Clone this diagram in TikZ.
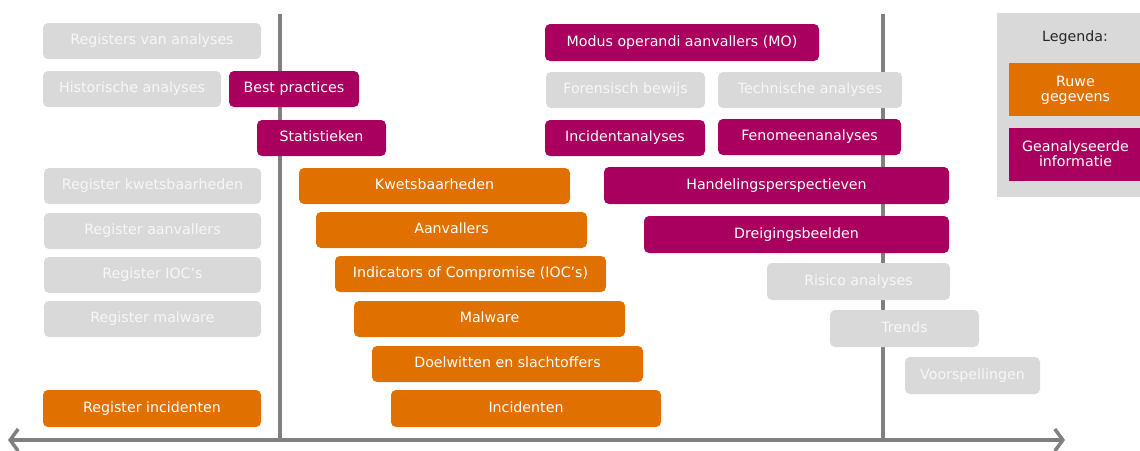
\documentclass[tikz,border=0pt]{standalone}
\usepackage{fontspec}
\setmainfont{DejaVu Sans}
\usetikzlibrary{arrows.meta}
\definecolor{ora}{HTML}{E07000}
\definecolor{mag}{HTML}{A9005F}
\definecolor{gry}{HTML}{D9D9D9}
\definecolor{axg}{HTML}{808080}
\definecolor{gtxt}{HTML}{F7F7F7}
\tikzset{
  bx/.style={rounded corners=5pt, inner sep=0pt, minimum height=36pt, font=\fontsize{14.2}{15}\selectfont, align=center, text height=0.77em, text depth=0em},
  raw/.style={bx, fill=ora, text=white},
  ana/.style={bx, fill=mag, text=white},
  reg/.style={bx, fill=gry, text=gtxt},
  lg/.style={rounded corners=0pt, minimum width=133pt, minimum height=53pt, text height=24.4pt, text depth=0pt},
  axis/.style={draw=axg, line width=3.5pt},
}
\begin{document}
\begin{tikzpicture}[x=1pt,y=-1pt]
\useasboundingbox (0,0) rectangle (1140,450);
% axes
\coordinate (l1t) at (280,14); \coordinate (l1b) at (280,441);
\coordinate (l2t) at (883,14); \coordinate (l2b) at (883,441);
\coordinate (al) at (8,440); \coordinate (ar) at (1065,440);
\draw[axis] (l1t) -- (l1b);
\draw[axis] (l2t) -- (l2b);
\draw[axis, {Straight Barb[length=8pt,width=22pt]}-{Straight Barb[length=8pt,width=22pt]}] (al) -- (ar);
% left column
\node[reg, minimum width=218pt] (reg1) at (152,41) {Registers van analyses};
\node[reg, minimum width=178pt] (hist) at (132,89) {Historische analyses};
\node[ana, minimum width=130pt] (best) at (294,89) {Best practices};
\node[ana, minimum width=129pt] (stat) at (321.5,138) {Statistieken};
\node[reg, minimum width=217pt] (rk) at (152.5,186) {Register kwetsbaarheden};
\node[reg, minimum width=217pt] (ra) at (152.5,231) {Register aanvallers};
\node[reg, minimum width=217pt] (rioc) at (152.5,275) {Register IOC’s};
\node[reg, minimum width=217pt] (rm) at (152.5,319) {Register malware};
\node[raw, minimum width=218pt, minimum height=37pt] (ri) at (152,408.5) {Register incidenten};
% raw data
\node[raw, minimum width=271pt] (kw) at (434.5,186) {Kwetsbaarheden};
\node[raw, minimum width=271pt] (aan) at (451.5,230) {Aanvallers};
\node[raw, minimum width=271pt] (ioc) at (470.5,274) {Indicators of Compromise (IOC’s)};
\node[raw, minimum width=271pt] (mal) at (489.5,319) {Malware};
\node[raw, minimum width=271pt] (doel) at (507.5,364) {Doelwitten en slachtoffers};
\node[raw, minimum width=270pt, minimum height=37pt] (inc) at (526,408.5) {Incidenten};
% analysed
\node[ana, minimum width=274pt, minimum height=37pt] (mo) at (682,42.5) {Modus operandi aanvallers (MO)};
\node[reg, minimum width=159pt] (fb) at (625.5,90) {Forensisch bewijs};
\node[reg, minimum width=184pt] (ta) at (810,90) {Technische analyses};
\node[ana, minimum width=160pt] (ia) at (625,138) {Incidentanalyses};
\node[ana, minimum width=183pt] (fa) at (809.5,137) {Fenomeenanalyses};
\node[ana, minimum width=345pt, minimum height=37pt] (hp) at (776.5,185.5) {Handelingsperspectieven};
\node[ana, minimum width=305pt, minimum height=37pt] (db) at (796.5,234.5) {Dreigingsbeelden};
\node[reg, minimum width=183pt, minimum height=37pt] (rsk) at (858.5,281.5) {Risico analyses};
\node[reg, minimum width=149pt, minimum height=37pt] (tr) at (904.5,328.5) {Trends};
\node[reg, minimum width=135pt, minimum height=37pt] (vs) at (972.5,375.5) {Voorspellingen};
% legend
\node[fill=gry, minimum width=146pt, minimum height=184pt, inner sep=0pt] (leg) at (1070,105) {};
\node[bx, text=black!85] (legt) at (1075,38) {Legenda:};
\node[raw, lg] (lraw) at (1075.5,89.5) {Ruwe\\gegevens};
\node[ana, lg] (lana) at (1075.5,154) {Geanalyseerde\\informatie};
\end{tikzpicture}
\end{document}
